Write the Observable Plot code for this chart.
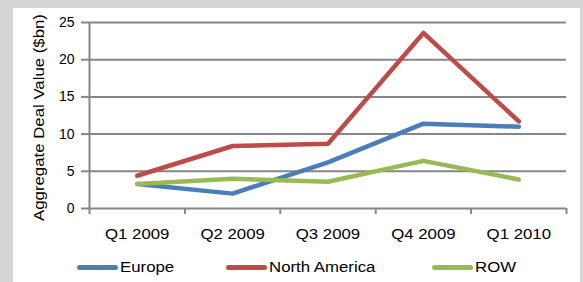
<!DOCTYPE html>
<html>
<head>
<meta charset="utf-8">
<script src="https://cdn.jsdelivr.net/npm/d3@7"></script>
<script src="https://cdn.jsdelivr.net/npm/@observablehq/plot@0.6"></script>
<style>
  body { margin: 0; }
  #wrap { position: relative; width: 583px; height: 282px; background: #d3d4d6; overflow: hidden;
          font-family: "Liberation Sans", Arial, sans-serif; }
  #panel { position: absolute; left: 13px; top: 8px; width: 567px; height: 274px; background: #ffffff; }
  #chart { position: absolute; left: 0; top: 0; }
  .leg { position: absolute; top: 258px; height: 18px; display: flex; align-items: center;
         font-size: 14px; color: #000; white-space: nowrap; }
  .sw { display: inline-block; width: 41px; height: 5px; border-radius: 3px; margin-right: 2px; }
  .lt { display: inline-block; transform: scaleX(1.2); transform-origin: left center; }
</style>
</head>
<body>
<div id="wrap">
  <div id="panel"></div>
  <div id="chart"></div>
</div>
<script>
const quarters = ["Q1 2009", "Q2 2009", "Q3 2009", "Q4 2009", "Q1 2010"];
const europe = [3.3, 2.0, 6.2, 11.4, 11.0];
const northAmerica = [4.4, 8.4, 8.7, 23.6, 11.7];
const row = [3.3, 4.0, 3.6, 6.4, 3.9];
const seriesNames = ["Europe", "North America", "ROW"];
const seriesColors = ["#4a7ebb", "#be4b48", "#98b954"];
const yTicks = [0, 5, 10, 15, 20, 25];
const yTitle = "Aggregate Deal Value ($bn)";

const seriesValues = [europe, northAmerica, row];
const table = seriesNames.flatMap((name, s) =>
  quarters.map((q, i) => ({ series: name, i, value: seriesValues[s][i] })));
const boundaries = d3.range(-0.5, quarters.length, 1);
const grid = "#868686";

const marks = [
  Plot.ruleY(yTicks, { stroke: grid, strokeWidth: 2 }),
  Plot.ruleX([boundaries[0]], { stroke: grid, strokeWidth: 2 }),
  Plot.axisX({ ticks: boundaries, tickSize: 6, tickFormat: () => "", stroke: grid, strokeWidth: 2, label: null }),
  Plot.axisX({ ticks: d3.range(quarters.length), tickFormat: i => quarters[i], tickSize: 0, tickPadding: 21,
               fontSize: 14, fill: "#000", label: null }),
  Plot.axisY({ ticks: yTicks, tickSize: 8, tickPadding: 7, fontSize: 14, stroke: grid, strokeWidth: 2,
               fill: "#000", label: null }),
  Plot.text([yTitle], { frameAnchor: "left", dx: -50, dy: 2, rotate: -90, text: d => d, fontSize: 14,
                        fill: "#000", textAnchor: "middle", lineAnchor: "middle" }),
  ...seriesNames.map((name, s) =>
    Plot.line(table.filter(d => d.series === name), {
      x: "i", y: "value", stroke: seriesColors[s], strokeWidth: 4.5,
      strokeLinejoin: "round", strokeLinecap: "round"
    }))
];

const chart = Plot.plot({
  width: 583, height: 282,
  marginLeft: 89, marginRight: 17, marginTop: 22, marginBottom: 74,
  x: { domain: [-0.5, quarters.length - 0.5] },
  y: { domain: [0, 25] },
  style: { fontFamily: "'Liberation Sans', Arial, sans-serif", background: "transparent", overflow: "visible" },
  marks
});
// the reference's lettering is stretched horizontally along the text direction
const stretched = new Set([...quarters, yTitle]);
d3.select(chart).selectAll("text")
  .filter(function () { return stretched.has(this.textContent); })
  .each(function () {
    const t = this.getAttribute("transform");
    if (t) {
      this.setAttribute("transform", t + " scale(1.2,1)");
    } else {
      const x = +(this.getAttribute("x") || 0), y = +(this.getAttribute("y") || 0);
      this.setAttribute("x", 0); this.setAttribute("y", 0);
      this.setAttribute("transform", `translate(${x},${y}) scale(1.2,1)`);
    }
  });
document.getElementById("chart").appendChild(chart);

const legendLeft = [77, 226, 432];
const wrap = document.getElementById("wrap");
seriesNames.forEach((name, s) => {
  const item = document.createElement("div");
  item.className = "leg";
  item.style.left = legendLeft[s] + "px";
  const sw = document.createElement("span");
  sw.className = "sw";
  sw.style.background = seriesColors[s];
  const label = document.createElement("span");
  label.className = "lt";
  label.textContent = name;
  item.appendChild(sw);
  item.appendChild(label);
  wrap.appendChild(item);
});
</script>
</body>
</html>
